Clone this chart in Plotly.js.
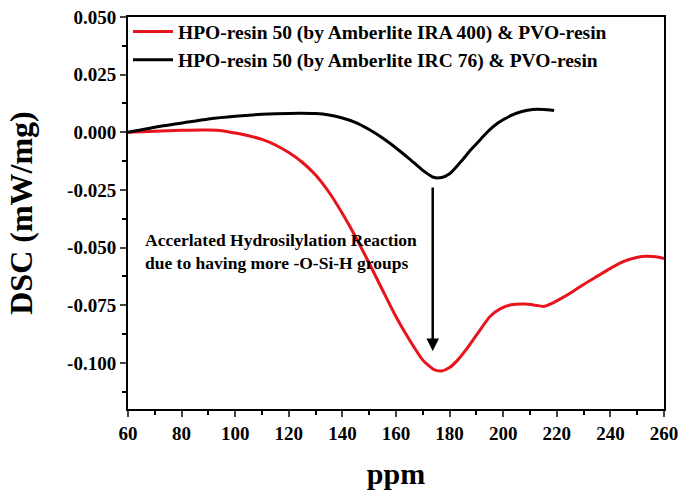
<!DOCTYPE html>
<html>
<head>
<meta charset="utf-8">
<script src="https://cdn.plot.ly/plotly-3.0.1.min.js"></script>
<style>html,body{margin:0;padding:0;background:#fff;}#chart{width:688px;height:494px;}</style>
</head>
<body>
<div id="chart"></div>
<script>
// Data
const redName = "HPO-resin 50 (by Amberlite IRA 400) & PVO-resin";
const blackName = "HPO-resin 50 (by Amberlite IRC 76) & PVO-resin";

const redX = [60, 70, 80, 90, 95, 100, 105, 110, 115, 120, 125, 130, 135, 140, 145, 150, 155, 160, 165, 170, 174, 177, 180, 183, 186, 190, 195, 199, 203, 208, 212, 215, 218, 222, 226, 230, 235, 240, 245, 249, 253, 257, 260];
const redY = [0, 0.0005, 0.0009, 0.001, 0.0007, -0.0003, -0.0015, -0.0031, -0.0055, -0.0088, -0.013, -0.0185, -0.026, -0.0352, -0.0455, -0.0568, -0.0685, -0.080, -0.090, -0.0988, -0.1028, -0.1035, -0.102, -0.0988, -0.0945, -0.088, -0.080, -0.0765, -0.0748, -0.0745, -0.075, -0.0755, -0.0743, -0.0718, -0.069, -0.066, -0.0625, -0.059, -0.056, -0.0545, -0.0538, -0.054, -0.0548];

const blackX = [60, 70, 80, 90, 100, 110, 120, 130, 135, 140, 145, 150, 155, 160, 165, 170, 174, 177, 180, 184, 188, 192, 194, 198, 203, 207, 211, 215, 219];
const blackY = [0, 0.0022, 0.004, 0.0058, 0.007, 0.0078, 0.0082, 0.0081, 0.0075, 0.0062, 0.0042, 0.0012, -0.0025, -0.0068, -0.0115, -0.0165, -0.0195, -0.0196, -0.018, -0.013, -0.0075, -0.0025, 0, 0.004, 0.0073, 0.009, 0.0099, 0.0099, 0.0095];

const xTicks = [60, 80, 100, 120, 140, 160, 180, 200, 220, 240, 260];
const yTicks = [0.05, 0.025, 0, -0.025, -0.05, -0.075, -0.1];
const yTickText = ["0.050", "0.025", "0.000", "-0.025", "-0.050", "-0.075", "-0.100"];

const noteLines = ["Accerlated Hydrosilylation Reaction", "due to having more -O-Si-H groups"];
const arrowX = 173.7, arrowTopY = -0.0233, arrowTipY = -0.0948;
const noteX = 65.5, noteY = -0.0515;

const FONT = "Liberation Serif, Times New Roman, serif";

const traces = [
  {x: redX, y: redY, name: redName, mode: "lines", type: "scatter",
   line: {color: "#e8141b", width: 3, shape: "spline", smoothing: 0.6}, legendgroup: "a"},
  {x: blackX, y: blackY, name: blackName, mode: "lines", type: "scatter",
   line: {color: "#000000", width: 3, shape: "spline", smoothing: 0.6}, legendgroup: "b"}
];

const layout = {
  width: 688, height: 494,
  margin: {l: 128, r: 24, t: 15, b: 85},
  paper_bgcolor: "#fff", plot_bgcolor: "#fff",
  font: {family: FONT, color: "#000"},
  showlegend: true,
  legend: {x: 0.0, y: 1.012, xanchor: "left", yanchor: "top", bgcolor: "rgba(0,0,0,0)",
           font: {family: FONT, size: 19.5, color: "#000", weight: "bold"},
           traceorder: "grouped", tracegroupgap: 0, itemwidth: 40},
  xaxis: {range: [60, 260], tickvals: xTicks, ticks: "outside", ticklen: 6, tickwidth: 2,
          showline: true, linewidth: 2, linecolor: "#000", mirror: true, showgrid: false, zeroline: false,
          tickfont: {family: FONT, size: 19, weight: "bold"},
          minor: {dtick: 10, ticks: "outside", ticklen: 4, tickwidth: 2, tickcolor: "#000", showgrid: false},
          title: {text: "ppm", font: {family: FONT, size: 30, weight: "bold"}, standoff: 20}},
  yaxis: {range: [-0.12, 0.05], tickvals: yTicks, ticktext: yTickText, ticks: "outside", ticklen: 6, tickwidth: 2,
          showline: true, linewidth: 2, linecolor: "#000", mirror: true, showgrid: false, zeroline: false,
          tickfont: {family: FONT, size: 19, weight: "bold"},
          minor: {dtick: 0.0125, ticks: "outside", ticklen: 4, tickwidth: 2, tickcolor: "#000", showgrid: false},
          title: {text: "DSC (mW/mg)", font: {family: FONT, size: 32, weight: "bold"}, standoff: 25}},
  annotations: [
    {x: arrowX, y: arrowTipY, ax: arrowX, ay: arrowTopY, axref: "x", ayref: "y", xref: "x", yref: "y",
     showarrow: true, arrowhead: 2, arrowsize: 1, arrowwidth: 2.5, arrowcolor: "#000", text: ""},
    {x: noteX, y: noteY, xref: "x", yref: "y", xanchor: "left", yanchor: "middle", align: "left",
     showarrow: false, text: noteLines.join("<br>"),
     font: {family: FONT, size: 17.5, weight: "bold", color: "#000"}}
  ]
};

Plotly.newPlot("chart", traces, layout, {displayModeBar: false, staticPlot: true});
</script>
</body>
</html>
